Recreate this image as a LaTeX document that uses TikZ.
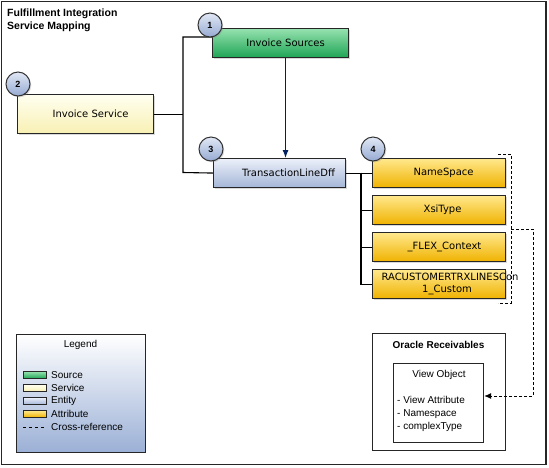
\documentclass[tikz,border=0pt]{standalone}
\usepackage{fontspec}
\setmainfont{DejaVu Sans}
\newfontfamily\arialf{Liberation Sans}
\usetikzlibrary{arrows.meta,shadows}
\definecolor{grnT}{RGB}{150,225,175}
\definecolor{grnB}{RGB}{30,165,85}
\definecolor{ylwT}{RGB}{255,255,240}
\definecolor{ylwB}{RGB}{248,240,180}
\definecolor{entT}{RGB}{235,240,250}
\definecolor{entB}{RGB}{165,182,215}
\definecolor{attT}{RGB}{255,232,140}
\definecolor{attB}{RGB}{240,178,0}
\definecolor{cirT}{RGB}{225,232,245}
\definecolor{cirB}{RGB}{150,170,210}
\definecolor{legB}{RGB}{155,176,214}
\definecolor{navyln}{RGB}{0,32,96}
\begin{document}
\begin{tikzpicture}[x=1pt,y=-1pt,
  box/.style={draw=black!85, line width=1.1pt, inner sep=0pt, anchor=north west,
    font=\fontsize{10}{12.5}\selectfont,
    drop shadow={shadow xshift=1.3pt, shadow yshift=-1.3pt, opacity=0.3}},
  srcfill/.style={top color=grnT, bottom color=grnB},
  svcfill/.style={top color=ylwT, bottom color=ylwB},
  entfill/.style={top color=entT, bottom color=entB},
  attfill/.style={top color=attT, bottom color=attB},
  circ/.style={circle, draw=black!80, line width=1pt, minimum size=24pt, inner sep=0pt,
    top color=cirT, bottom color=cirB, font=\arialf\bfseries\fontsize{9}{10}\selectfont,
    drop shadow={shadow xshift=1.3pt, shadow yshift=-1.3pt, opacity=0.3}},
  conn/.style={draw=black, line width=1.1pt},
  xref/.style={draw=black, line width=0.9pt, dash pattern=on 3pt off 2pt},
  lgtext/.style={font=\arialf\fontsize{10}{13}\selectfont, inner sep=0pt},
  sw/.style={draw=black!85, line width=0.9pt, minimum width=23pt, minimum height=7pt, inner sep=0pt},
  ttl/.style={font=\arialf\bfseries\fontsize{10.5}{13}\selectfont, inner sep=0pt, anchor=base west}
]
\useasboundingbox (0,0) rectangle (549,467);
% outer frame
\draw[line width=1.2pt, black!85] (1.5,1.5) rectangle (546,464.5);
% title
\node[ttl] (title1) at (7,16) {Fulfillment Integration};
\node[ttl] (title2) at (7,29) {Service Mapping};

% boxes
\node[box, srcfill, minimum width=136pt, minimum height=29pt] (src) at (212,28) {\hspace*{10pt}Invoice Sources};
\node[box, svcfill, minimum width=136pt, minimum height=39pt] (svc) at (17,94) {\hspace*{10pt}Invoice Service};
\node[box, entfill, minimum width=132pt, minimum height=29pt] (tld) at (213,158) {\hspace*{18pt}TransactionLineDff};
\node[box, attfill, minimum width=133pt, minimum height=29pt] (ns) at (372,158) {\hspace*{9pt}NameSpace};
\node[box, attfill, minimum width=133pt, minimum height=29pt] (xsi) at (372,195) {\hspace*{7pt}XsiType};
\node[box, attfill, minimum width=133pt, minimum height=29pt] (flex) at (372,232) {\hspace*{11pt}\_FLEX\_Context};
\node[box, attfill, minimum width=133pt, minimum height=29pt, align=center, font=\fontsize{10}{12.5}\selectfont] (rac) at (372,269)
  {\makebox[0pt]{\hspace*{22pt}RACUSTOMERTRXLINESCon}\\\hspace*{16pt}1\_Custom};

% connectors
\coordinate (jA) at (183,37);
\coordinate (jB) at (183,172.5);
\draw[conn] (svc.east) -- (svc.east -| jA);
\draw[conn] (src.west |- jA) -- (jA) -- (jB) -- (tld.west);
\draw[line width=1.1pt, draw=navyln, -{Latex[length=8pt,width=6pt]}] ([xshift=5pt]src.south) -- ([xshift=5pt]src.south |- tld.north);
\coordinate (jC) at (361,172.5);
\draw[conn] (tld.east) -- (ns.west);
\draw[conn] (jC) -- (jC |- rac.west) -- (rac.west);
\draw[conn] (jC |- xsi.west) -- (xsi.west);
\draw[conn] (jC |- flex.west) -- (flex.west);

% circles
\node[circ] (c1) at (210,25) {1};
\node[circ] (c2) at (18,84) {2};
\node[circ] (c3) at (211,149) {3};
\node[circ] (c4) at (373,149) {4};

% dashed bracket
\coordinate (b1) at (498,154);
\coordinate (b2) at (511,154);
\coordinate (b3) at (511,303);
\coordinate (b4) at (498,303);
\draw[xref] (b1) -- (b2) -- (b3) -- (b4);

% legend
\node[draw=black!85, line width=1pt, top color=white, bottom color=legB, minimum width=129pt, minimum height=118pt, anchor=north west, inner sep=0pt] (leg) at (16,334) {};
\node[lgtext] (legt) at (80.5,345) {Legend};
\node[sw, srcfill] (sw1) at (34.5,375) {};
\node[sw, svcfill] (sw2) at (34.5,388) {};
\node[sw, entfill] (sw3) at (34.5,401) {};
\node[sw, attfill] (sw4) at (34.5,414) {};
\coordinate (d1) at (23,427);
\coordinate (d2) at (46,427);
\draw[xref, dash pattern=on 3pt off 3pt] (d1) -- (d2);
\node[lgtext, anchor=west] (lt1) at (51,375) {Source};
\node[lgtext, anchor=west] (lt2) at (51,388) {Service};
\node[lgtext, anchor=west] (lt3) at (51,401) {Entity};
\node[lgtext, anchor=west] (lt4) at (51,414) {Attribute};
\node[lgtext, anchor=west] (lt5) at (51,427) {Cross-reference};

% Oracle Receivables
\node[draw=black!85, line width=1.2pt, minimum width=133pt, minimum height=117pt, anchor=north west, inner sep=0pt] (orb) at (372,333) {};
\node[font=\arialf\bfseries\fontsize{10}{12}\selectfont, inner sep=0pt] (orbt) at (438.5,345) {Oracle Receivables};
\node[draw=black!85, line width=1.2pt, minimum width=90pt, minimum height=79pt, anchor=north west, inner sep=0pt] (vo) at (393,363) {};
\node[lgtext] (vot) at (439,375) {View Object};
\node[lgtext, align=left, anchor=west] (voi) at (397,414) {- View Attribute\\- Namespace\\- complexType};

% cross-reference arrow
\coordinate (x1) at (511,229);
\coordinate (x2) at (533,229);
\coordinate (x3) at (533,396);
\draw[xref, -{Latex[length=7pt,width=6pt]}] (x1) -- (x2) -- (x3) -- (x3 -| vo.east);
\end{tikzpicture}
\end{document}
